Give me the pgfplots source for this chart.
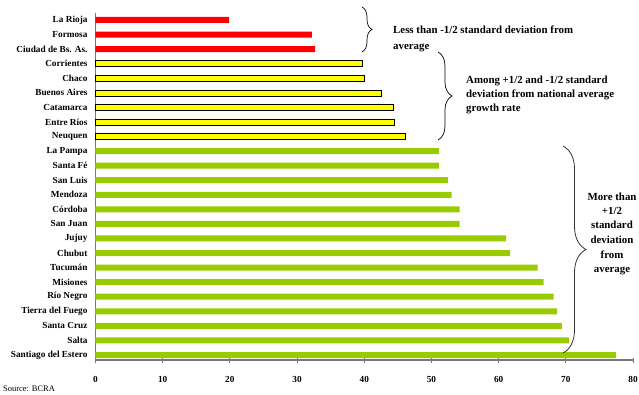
\documentclass[border=0pt]{standalone}
\usepackage{fontspec}
\setmainfont{Liberation Serif}
\usepackage{pgfplots}
\pgfplotsset{compat=1.18}
\usetikzlibrary{decorations.pathreplacing}

\definecolor{barred}{RGB}{255,0,0}
\definecolor{baryellow}{RGB}{255,255,0}
\definecolor{bargreen}{RGB}{153,204,0}
\definecolor{axisgray}{RGB}{120,120,120}

\newcommand{\notefont}{\bfseries\fontsize{10.9}{14}\selectfont}

\begin{document}
\begin{tikzpicture}[x=1bp,y=1bp]
\useasboundingbox (-95.5,-34) rectangle (543.5,360);
\begin{axis}[
  at={(0,0)}, anchor=south west,
  scale only axis, width=537.5bp, height=347bp,
  xmin=0, xmax=80, ymin=-0.343, ymax=23.48,
  axis x line*=bottom, axis y line*=left,
  axis line style={axisgray, line width=1.2pt},
  xbar, bar width=6bp, bar shift=0pt,
  clip=false,
  xtick={0,10,...,80},
  tick align=center, major tick length=5bp,
  xtick style={axisgray, line width=0.8pt},
  ytick={0,...,23},
  ytick style={draw=none},
  yticklabels={Santiago del Estero, Salta, Santa Cruz, Tierra del Fuego,
    Río Negro, Misiones, Tucumán, Chubut, Jujuy, San Juan, Córdoba,
    Mendoza, San Luis, Santa Fé, La Pampa, Neuquen, Entre Ríos, Catamarca,
    Buenos Aires, Chaco, Corrientes, Ciudad de Bs. As., Formosa, La Rioja},
  yticklabel style={font=\bfseries\fontsize{9.3}{10}\selectfont, anchor=east, xshift=-2bp},
  xticklabel style={font=\bfseries\fontsize{9.3}{10}\selectfont, yshift=-10bp},
  /pgf/number format/assume math mode=true,
]
% more than +1/2 standard deviation above average
\addplot[fill=bargreen, draw=none, bar shift=0pt] coordinates {
  (77.5,0) (70.5,1) (69.4,2) (68.7,3) (68.2,4) (66.7,5) (65.8,6)
  (61.7,7) (61.1,8) (54.2,9) (54.2,10) (53.0,11) (52.5,12) (51.1,13) (51.1,14)};
% within +/-1/2 standard deviation
\addplot[fill=baryellow, draw=black, line width=0.6pt, bar shift=0pt] coordinates {
  (46.1,15) (44.5,16) (44.3,17) (42.5,18) (40.0,19) (39.7,20)};
% less than -1/2 standard deviation
\addplot[fill=barred, draw=none, bar shift=0pt] coordinates {
  (32.7,21) (32.2,22) (19.9,23)};
\end{axis}

% group braces
\draw[black, line width=0.7bp, decorate, decoration={brace, amplitude=10bp}]
  (266.5,353) -- (266.5,308);
\draw[black, line width=0.7bp, decorate, decoration={brace, amplitude=14bp}]
  (342.5,308) -- (342.5,220);
\draw[black!80, line width=0.8bp, decorate, decoration={brace, amplitude=23bp}]
  (467.5,214) -- (467.5,7);

% group notes
\node[anchor=base west, inner sep=0pt, font=\notefont] at (297.5,327) {Less than -1/2 standard deviation from};
\node[anchor=base west, inner sep=0pt, font=\notefont] at (297.5,311) {average};

\node[anchor=base west, inner sep=0pt, font=\notefont] at (370.5,277) {Among +1/2 and -1/2 standard};
\node[anchor=base west, inner sep=0pt, font=\notefont] at (370.5,263) {deviation from national average};
\node[anchor=base west, inner sep=0pt, font=\notefont] at (370.5,249) {growth rate};

\node[anchor=base, inner sep=0pt, font=\notefont] at (516.5,160) {More than};
\node[anchor=base, inner sep=0pt, font=\notefont] at (516.5,146) {+1/2};
\node[anchor=base, inner sep=0pt, font=\notefont] at (516.5,132) {standard};
\node[anchor=base, inner sep=0pt, font=\notefont] at (516.5,117) {deviation};
\node[anchor=base, inner sep=0pt, font=\notefont] at (516.5,102) {from};
\node[anchor=base, inner sep=0pt, font=\notefont] at (516.5,88) {average};

\node[anchor=base west, inner sep=0pt, font=\fontsize{8.5}{10}\selectfont] at (-92.5,-31) {Source: BCRA};
\end{tikzpicture}
\end{document}
